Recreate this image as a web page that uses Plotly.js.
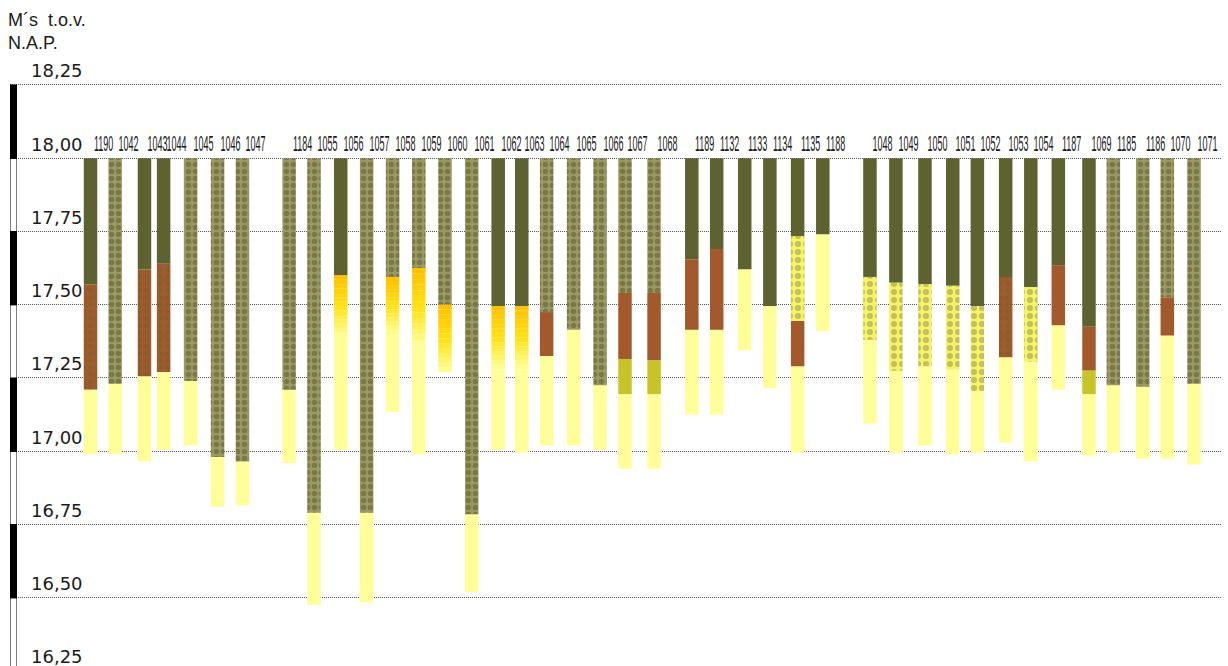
<!DOCTYPE html>
<html><head><meta charset="utf-8">
<script src="https://cdn.plot.ly/plotly-3.0.1.min.js"></script>
<style>html,body{margin:0;padding:0;overflow:hidden;background:#fff}#chart{width:1228px;height:672px}</style>
</head><body><div id="chart"></div>
<script>
// ---- data ----
const boringen = ['1190','1042','1043','1044','1045','1046','1047',
  '1184','1055','1056','1057','1058','1059','1060','1061','1062','1063','1064','1065','1066','1067','1068',
  '1189','1132','1133','1134','1135','1188',
  '1048','1049','1050','1051','1052','1053','1054','1187','1069','1185','1186','1070','1071'];
// relative position of each boring along the section
const afstand = [0, 0.94, 2.06, 2.79, 3.82, 4.85, 5.80,
  7.58, 8.53, 9.55, 10.54, 11.53, 12.53, 13.53, 14.55, 15.56, 16.46, 17.41, 18.44, 19.45, 20.40, 21.51,
  22.95, 23.90, 24.97, 25.93, 26.99, 27.95,
  29.75, 30.74, 31.85, 32.91, 33.85, 34.93, 35.89, 36.94, 38.11, 39.04, 40.16, 41.10, 42.12];
const maaiveld = 18.00; // top of every boring (m t.o.v. N.A.P.)
// layer codes from top to bottom
const lagen = [
  ['K','VK','Z'],['KZ','Z'],['K','VK','Z'],['K','VK','Z'],['KZ','Z'],['KZ','Z'],['KZ','Z'],
  ['KZ','Z'],['KZ','Z'],['K','ZG','Z'],['KZ','Z'],['KZ','ZG','Z'],['KZ','ZG','Z'],['KZ','ZG'],['KZ','Z'],
  ['K','ZG','Z'],['K','ZG','Z'],['KZ','V','Z'],['KZ','Z'],['KZ','Z'],['KZ','V','G','Z'],['KZ','V','G','Z'],
  ['K','V','Z'],['K','V','Z'],['K','Z'],['K','Z'],['K','ZK','V','Z'],['K','Z'],
  ['K','ZK','Z'],['K','ZK','Z'],['K','ZK','Z'],['K','ZK','Z'],['K','ZK','Z'],['K','VK','Z'],['K','ZK','Z'],
  ['K','V','Z'],['K','V','G','Z'],['KZ','Z'],['KZ','Z'],['KZ','V','Z'],['KZ','Z']];
// bottom of each layer (m t.o.v. N.A.P.)
const ondergrens = [
  [17.57,17.21,16.99],[17.23,16.99],[17.62,17.255,16.965],[17.64,17.27,17.005],[17.24,17.02],[16.98,16.81],[16.965,16.815],
  [17.21,16.96],[16.79,16.475],[17.60,17.39,17.005],[16.79,16.485],[17.595,17.40,17.135],[17.625,17.36,16.99],[17.50,17.27],[16.785,16.52],
  [17.495,17.28,17.005],[17.495,17.28,16.995],[17.475,17.325,17.02],[17.415,17.02],[17.225,17.005],[17.54,17.315,17.195,16.94],[17.54,17.31,17.195,16.94],
  [17.655,17.415,17.125],[17.69,17.415,17.125],[17.62,17.345],[17.495,17.215],[17.735,17.445,17.29,16.995],[17.74,17.41],
  [17.595,17.38,17.095],[17.575,17.275,16.995],[17.57,17.29,17.02],[17.565,17.28,16.99],[17.495,17.205,16.995],[17.595,17.32,17.03],[17.56,17.305,16.965],
  [17.635,17.43,17.21],[17.425,17.275,17.195,16.985],[17.225,16.995],[17.22,16.975],[17.525,17.395,16.975],[17.23,16.955]];
const hoogteTicks = [16.25, 16.50, 16.75, 17.00, 17.25, 17.50, 17.75, 18.00, 18.25];
const titel = 'M´s&nbsp; t.o.v.<br>N.A.P.';

// ---- styles ----
const BAR_W = 0.515;
const STYLE = {
  K:  {color:'#5e6130'},
  KZ: {color:'#9c9a64', pattern:{shape:'.', fgcolor:'#56582a', size:7, solidity:0.5, fillmode:'overlay'}},
  V:  {color:'#a2592b'},
  VK: {color:'#a2592b', pattern:{shape:'.', fgcolor:'#6a6632', size:7, solidity:0.4, fillmode:'overlay'}},
  ZK: {color:'#f6f462', pattern:{shape:'.', fgcolor:'#8d8a5c', size:8, solidity:0.45, fillmode:'overlay'}},
  G:  {color:'#c8c326'},
  Z:  {color:'#ffff99'}
};
const GRAD = [[0,[255,192,0]],[0.5,[255,226,20]],[1,[255,255,153]]];
function gradColor(t){
  for(let k=1;k<GRAD.length;k++){
    if(t<=GRAD[k][0]){
      const a=GRAD[k-1], b=GRAD[k], f=(t-a[0])/(b[0]-a[0]);
      const c=a[1].map((v,j)=>Math.round(v+(b[1][j]-v)*f));
      return 'rgb('+c.join(',')+')';
    }
  }
  return 'rgb(255,255,153)';
}

const traces = [];
const byCode = {};
const grad = {x:[], base:[], y:[], color:[]};
const NSLICE = 14;
boringen.forEach((b,i)=>{
  let top = maaiveld;
  lagen[i].forEach((code,j)=>{
    const bot = ondergrens[i][j];
    if(code==='ZG'){
      const h=(top-bot)/NSLICE;
      for(let s=0;s<NSLICE;s++){
        grad.x.push(afstand[i]); grad.base.push(top-(s+1)*h); grad.y.push(h*1.02);
        grad.color.push(gradColor((s+0.5)/NSLICE));
      }
    } else {
      if(!byCode[code]) byCode[code]={x:[],base:[],y:[]};
      byCode[code].x.push(afstand[i]); byCode[code].base.push(bot); byCode[code].y.push(top-bot);
    }
    top = bot;
  });
});
Object.keys(byCode).forEach(code=>{
  const st = STYLE[code];
  const marker = {color: st.color, line:{width:0}};
  if(st.pattern) marker.pattern = st.pattern;
  traces.push({type:'bar', x:byCode[code].x, base:byCode[code].base, y:byCode[code].y, width:BAR_W,
    marker, hoverinfo:'skip', showlegend:false, xaxis:'x', yaxis:'y'});
});
traces.push({type:'bar', x:grad.x, base:grad.base, y:grad.y, width:BAR_W,
  marker:{color:grad.color, line:{width:0}}, hoverinfo:'skip', showlegend:false});

// depth scale bar (alternating black / white per tick interval)
const schaalBase = hoogteTicks.slice(0,-1);
traces.push({type:'bar', x:schaalBase.map(()=>0), base:schaalBase,
  y:schaalBase.map((v,k)=>hoogteTicks[k+1]-v), width:1,
  marker:{color:schaalBase.map((v,k)=>k%2===0?'#ffffff':'#000000'), line:{color:'#000', width:1}},
  xaxis:'x2', yaxis:'y', hoverinfo:'skip', showlegend:false});

const layout = {
  width:1228, height:672,
  margin:{l:10, r:6, t:0, b:1},
  paper_bgcolor:'#fff', plot_bgcolor:'rgba(0,0,0,0)',
  barmode:'overlay',
  separators:',.',
  showlegend:false,
  title:{text:titel, x:8/1228, xanchor:'left', xref:'container', y:1-26/672, yanchor:'top', yref:'container',
    font:{family:'Liberation Sans, Arial, sans-serif', size:18, color:'#1a1a1a'}},
  xaxis:{range:[-3.073, 43.187], visible:false, fixedrange:true},
  xaxis2:{domain:[0, 7/1212], anchor:'y', range:[-0.5,0.5], visible:false, fixedrange:true},
  yaxis:{range:[16.25, 18.54], tickvals:hoogteTicks, tickformat:'.2f',
    showgrid:true, gridcolor:'#555', griddash:'1px,1px', gridwidth:1,
    zeroline:false, showline:false, ticks:'',
    ticklabelposition:'inside', ticklabelshift:-14, ticklabelstandoff:18,
    tickfont:{family:'DejaVu Sans, sans-serif', size:18, color:'#1a1a1a'}, fixedrange:true},
  annotations: boringen.map((b,i)=>({x:afstand[i], y:maaiveld, xref:'x', yref:'y', text:b,
    showarrow:false, xanchor:'center', yanchor:'bottom', xshift:13, yshift:0,
    font:{family:'Liberation Sans, Arial, sans-serif', size:22, color:'#1a1a1a'}}))
};

Plotly.newPlot('chart', traces, layout, {staticPlot:true, displayModeBar:false}).then(()=>{
  document.querySelectorAll('#chart .annotation-text').forEach(t=>{
    t.style.transformBox='fill-box';
    t.style.transformOrigin='center';
    t.style.transform='scaleX(0.41)';
  });
});
</script></body></html>
